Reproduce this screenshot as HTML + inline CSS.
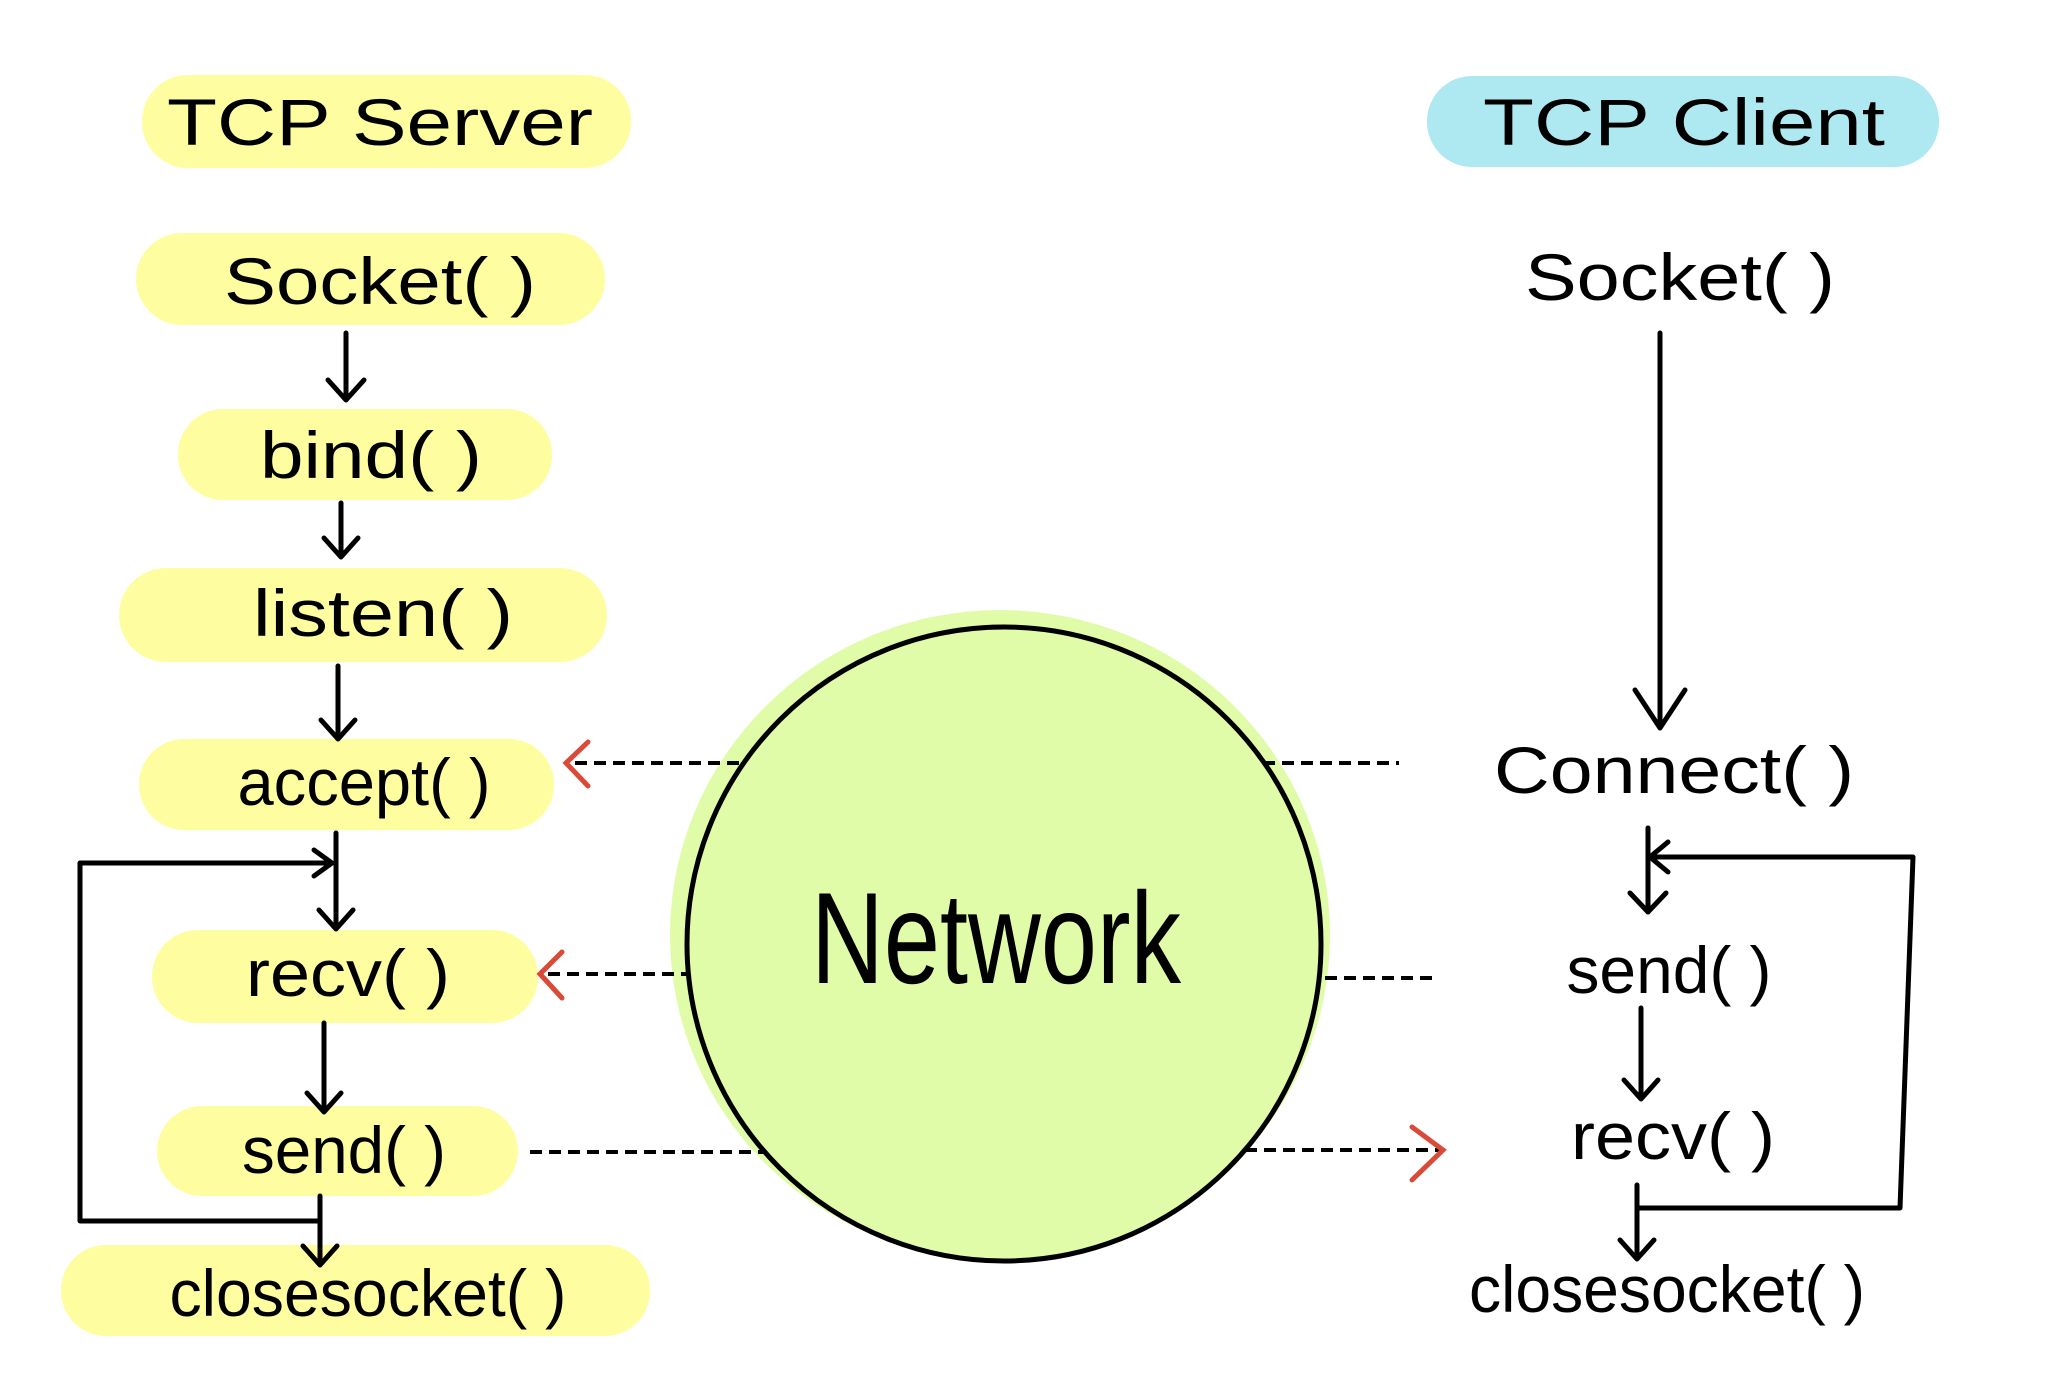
<!DOCTYPE html>
<html><head><meta charset="utf-8"><style>
html,body{margin:0;padding:0;background:#fff}
svg{display:block}
text{font-family:"Liberation Sans",sans-serif;fill:#000;text-anchor:middle;dominant-baseline:central}
</style></head><body>
<svg width="2065" height="1381" viewBox="0 0 2065 1381" xmlns="http://www.w3.org/2000/svg">
<g fill="#fefea0">
<rect x="142" y="75" width="489" height="93" rx="46"/>
<rect x="136" y="233" width="469" height="92" rx="46"/>
<rect x="178" y="409" width="374" height="91" rx="45"/>
<rect x="119" y="568" width="488" height="94" rx="47"/>
<rect x="139" y="739" width="415" height="91" rx="45"/>
<rect x="152" y="930" width="386" height="93" rx="46"/>
<rect x="157" y="1106" width="361" height="90" rx="45"/>
<rect x="61" y="1245" width="589" height="91" rx="45"/>
</g>
<rect x="1427" y="76" width="512" height="91" rx="45" fill="#aee8f0"/>
<ellipse cx="1000" cy="935" rx="330" ry="325" fill="#e0fca8"/>
<circle cx="1004" cy="944" r="317" fill="#e0fca8" stroke="#000" stroke-width="5"/>
<text x="996" y="938" font-size="130" textLength="370" lengthAdjust="spacingAndGlyphs">Network</text>
<g font-size="66">
<text x="380" y="122" textLength="426" lengthAdjust="spacingAndGlyphs">TCP Server</text>
<text x="1684" y="122" textLength="402" lengthAdjust="spacingAndGlyphs">TCP Client</text>
</g>
<g font-size="66" lengthAdjust="spacingAndGlyphs">
<text x="380" y="281" textLength="312" lengthAdjust="spacingAndGlyphs">Socket( )</text>
<text x="371" y="455" textLength="222" lengthAdjust="spacingAndGlyphs">bind( )</text>
<text x="383" y="613" textLength="260" lengthAdjust="spacingAndGlyphs">listen( )</text>
<text x="364" y="782" textLength="253" lengthAdjust="spacingAndGlyphs">accept( )</text>
<text x="348" y="973" textLength="204" lengthAdjust="spacingAndGlyphs">recv( )</text>
<text x="344" y="1150" textLength="204" lengthAdjust="spacingAndGlyphs">send( )</text>
<text x="368" y="1293" textLength="397" lengthAdjust="spacingAndGlyphs">closesocket( )</text>
<text x="1680" y="277" textLength="310" lengthAdjust="spacingAndGlyphs">Socket( )</text>
<text x="1674" y="770" textLength="360" lengthAdjust="spacingAndGlyphs">Connect( )</text>
<text x="1669" y="970" textLength="205" lengthAdjust="spacingAndGlyphs">send( )</text>
<text x="1673" y="1136" textLength="204" lengthAdjust="spacingAndGlyphs">recv( )</text>
<text x="1667" y="1289" textLength="396" lengthAdjust="spacingAndGlyphs">closesocket( )</text>
</g>
<g stroke="#000" stroke-width="5" fill="none" stroke-linecap="round" stroke-linejoin="round">
<path d="M346 333V398M328 380L346 400L364 380"/>
<path d="M341 503V555M324 538L341 557L358 538"/>
<path d="M338 666V737M321 720L338 739L355 720"/>
<path d="M336 833V927M319 910L336 929L353 910"/>
<path d="M324 1023V1110M307 1093L324 1112L341 1093"/>
<path d="M320 1196V1263M303 1246L320 1265L337 1246"/>
<path d="M330 863H80V1221H320M314 850L332 863L314 876"/>
<path d="M1660 333V726M1635 690L1660 728L1685 690"/>
<path d="M1648 828V910M1630 893L1648 912L1666 893"/>
<path d="M1650 857H1913L1900 1208H1637"/>
<path d="M1641 1008V1097M1624 1080L1641 1099L1658 1080"/>
<path d="M1637 1185V1257M1620 1240L1637 1259L1654 1240"/>
<path d="M1668 842L1650 857L1668 872"/>
</g>
<g stroke="#000" stroke-width="4" stroke-dasharray="12,7" fill="none">
<path d="M575 763H740"/>
<path d="M1263 763H1399"/>
<path d="M548 974H686"/>
<path d="M1325 978H1436"/>
<path d="M530 1152H766"/>
<path d="M1245 1150H1440"/>
</g>
<g stroke="#d94a38" stroke-width="5" fill="none" stroke-linecap="round">
<path d="M588 742L566 763L588 786"/>
<path d="M562 952L540 974L562 998"/>
<path d="M1412 1127L1443 1150L1412 1180"/>
</g>
</svg>
</body></html>
